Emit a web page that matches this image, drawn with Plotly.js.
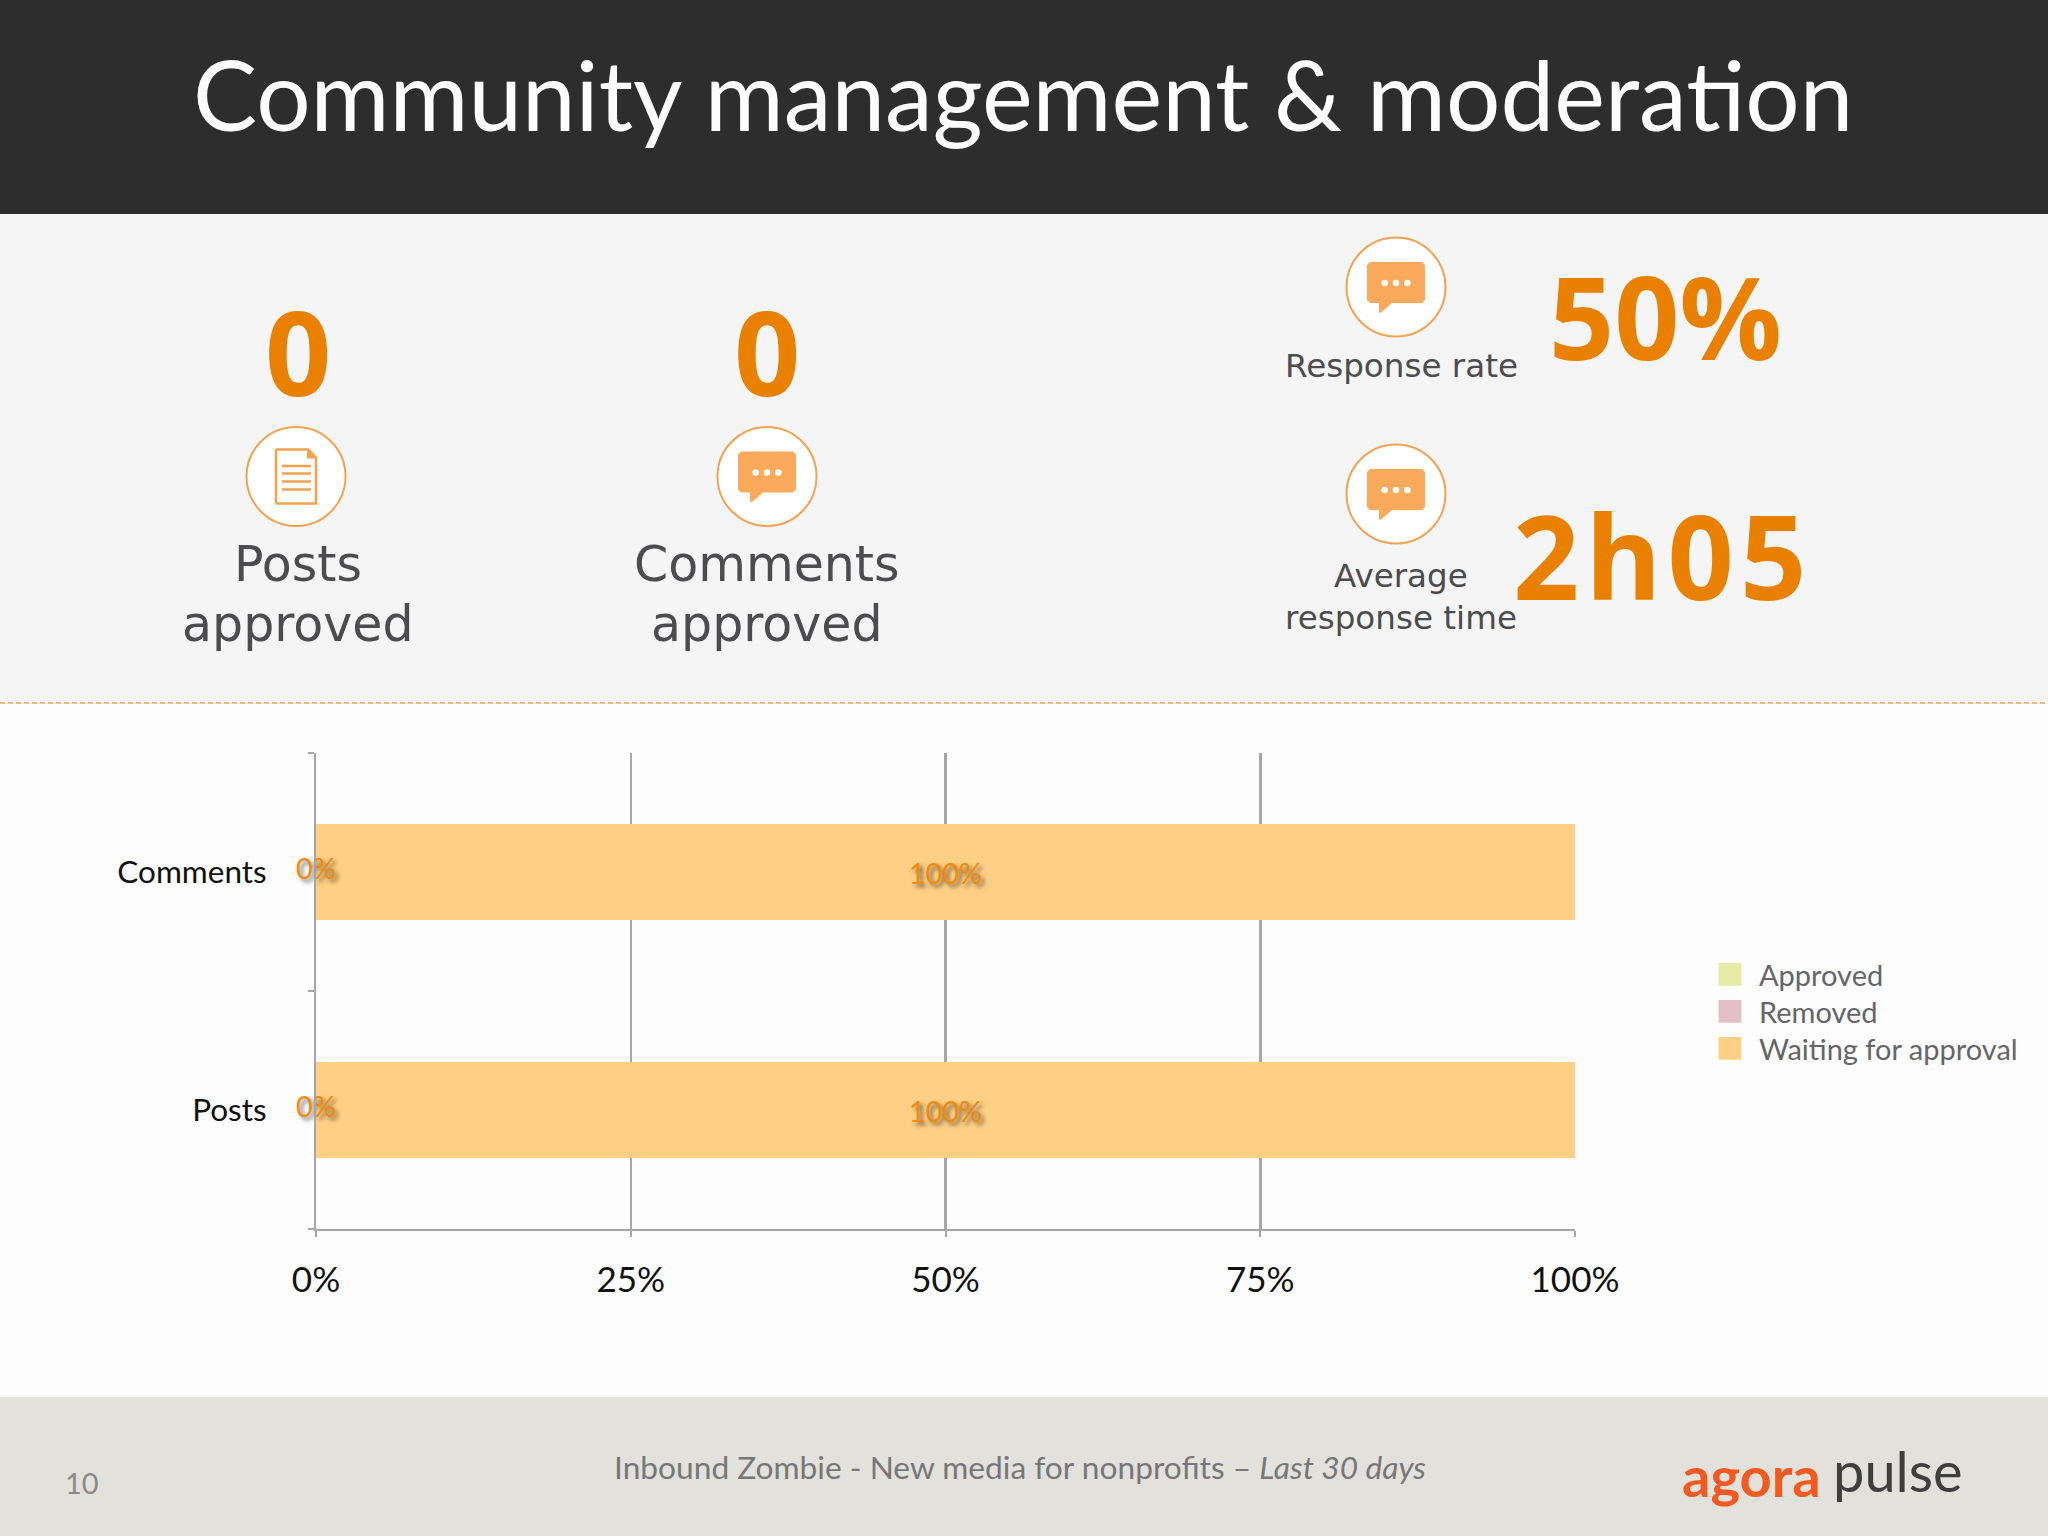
<!DOCTYPE html>
<html><head><meta charset="utf-8">
<script src="https://cdn.plot.ly/plotly-3.0.1.min.js"></script>
<style>html,body{margin:0;padding:0;background:#fdfdfe}</style></head>
<body><div id="chart" style="width:2048px;height:1536px"></div>
<script>
const categories = ['Posts', 'Comments'];
const seriesNames = ['Approved', 'Removed', 'Waiting for approval'];
const approved = [0, 0];
const removed = [0, 0];
const waiting = [100, 100];
const seriesColors = ['#e5eba5', '#e3bfc9', '#fed085'];
const xTicks = [0, 25, 50, 75, 100];
const xTickLabels = ['0%', '25%', '50%', '75%', '100%'];

const W = 2048, H = 1536;
const px = x => x / W, py = y => 1 - y / H;
const GRAY = '#a6a6a6', ORANGE = '#ea8000', ICON = '#f5a250', ICONFILL = '#fba95b', TXT = '#4c4c4e';
const LATO = 'Lato, sans-serif', DJ = '"DejaVu Sans", sans-serif', OS = '"Open Sans", sans-serif';

const shapes = [];
const annotations = [];
function rect(x0, y0, x1, y1, color) {
  shapes.push({type:'rect', xref:'paper', yref:'paper', x0:px(x0), x1:px(x1), y0:py(y0), y1:py(y1),
    fillcolor:color, line:{width:0}, layer:'below'});
}
function path(points, fill, stroke, sw) {
  const d = points.map((p,i) => (i ? 'L' : 'M') + px(p[0]) + ',' + py(p[1])).join(' ') + (fill ? ' Z' : '');
  shapes.push({type:'path', xref:'paper', yref:'paper', path:d, fillcolor:fill || 'rgba(0,0,0,0)',
    line:stroke ? {color:stroke, width:sw} : {width:0}, layer:'below'});
}
function circle(cx, cy, r, fill, stroke, sw) {
  shapes.push({type:'circle', xref:'paper', yref:'paper', x0:px(cx-r), x1:px(cx+r), y0:py(cy+r), y1:py(cy-r),
    fillcolor:fill, line:stroke ? {color:stroke, width:sw} : {width:0}, layer:'below'});
}
function label(text, x, y, size, color, family, weight) {
  annotations.push({text:text, xref:'paper', yref:'paper', x:px(x), y:py(y), xanchor:'center', yanchor:'middle',
    showarrow:false, font:{size:size, color:color, family:family, weight:weight || 400}});
}
function bubbleIcon(cx, cy) {
  circle(cx, cy, 49.5, '#ffffff', ICON, 2);
  const L=cx-29, R=cx+29, T=cy-25, B=cy+16, c=3;
  path([[L+c,T],[R-c,T],[R,T+c],[R,B-c],[R-c,B],[cx-4,B],[cx-15.5,cy+26],[cx-17,cy+25],[cx-17,B],[L+c,B],[L,B-c],[L,T+c]], ICONFILL);
  [-11.3,0,11.3].forEach(dx => circle(cx+dx, cy-4, 3.3, '#ffffff'));
}
function docIcon(cx, cy) {
  circle(cx, cy, 49.5, '#ffffff', ICON, 2);
  path([[cx-20,cy-27],[cx+12,cy-27],[cx+20,cy-19],[cx+20,cy+27],[cx-20,cy+27]], null, ICON, 2.5);
  path([[cx-20,cy-27],[cx-20,cy+27]], null, ICON, 2.5);
  path([[cx+11,cy-27],[cx+20,cy-18],[cx+11,cy-18]], ICON);
  [-10.5,-3,5,13].forEach(dy => path([[cx-14,cy+dy],[cx+15,cy+dy]], null, ICON, 2.5));
}

rect(0, 0, W, 214, '#2d2d2d');
rect(0, 214, W, 703, '#f6f5f6');
rect(0, 1397, W, H, '#e2e1dc');
shapes.push({type:'line', xref:'paper', yref:'paper', x0:0, x1:1, y0:py(703), y1:py(703), line:{color:'#f3a458', width:1.5, dash:'5px,3px'}, layer:'below'});

label('Community management &amp; moderation', 1023, 93, 96, '#fdfdfd', LATO);
label('0', 298, 351, 116, ORANGE, OS, 700);
label('0', 767, 351, 116, ORANGE, OS, 700);
docIcon(296, 476.5);
bubbleIcon(767, 476.5);
label('Posts', 298, 564.3, 49, TXT, DJ);
label('approved', 298, 624.3, 49, TXT, DJ);
label('Comments', 767, 564.3, 49, TXT, DJ);
label('approved', 767, 624.3, 49, TXT, DJ);
bubbleIcon(1396, 287);
bubbleIcon(1396, 494);
label('Response rate', 1401, 366, 32.6, TXT, DJ);
label('Average', 1401, 576, 32.6, TXT, DJ);
label('response time', 1401, 618, 32.6, TXT, DJ);
label('50%', 1665, 315, 114, ORANGE, OS, 700);
label('2h05', 1662, 555, 116, ORANGE, OS, 700);

label('10', 82, 1482, 29, '#8a8a8a', LATO);
label('Inbound Zombie - New media for nonprofits – <i>Last 30 days</i>', 1020, 1467, 31.7, '#77777a', LATO);
label('agora', 1751, 1475, 56, '#f25a1f', LATO, 700);
label('pulse', 1898, 1470, 56, '#3f3f3f', LATO);

const labelFont = {family:LATO, size:29, color:'#f08a10', shadow:'3px 3px 4px rgba(0,0,0,0.55)'};
const seriesValues = [approved, removed, waiting];
const barTraces = seriesValues.map((vals, i) => ({
  type:'bar', orientation:'h', name:seriesNames[i], y:categories, x:vals,
  marker:{color:seriesColors[i]},
  text:vals.map(v => v > 0 ? v + '%' : ''), textposition:'inside', insidetextanchor:'middle', constraintext:'none',
  textangle:0, textfont:labelFont, hoverinfo:'skip'
}));
const zeroLabelTrace = {
  type:'scatter', mode:'text', y:categories, x:approved, text:approved.map(v => v + '%'),
  textposition:'middle center', textfont:labelFont, cliponaxis:false, showlegend:false, hoverinfo:'skip'
};

const layout = {
  width:W, height:H, autosize:false, margin:{l:0,r:0,t:0,b:0,pad:0},
  paper_bgcolor:'#fdfdfe', plot_bgcolor:'rgba(0,0,0,0)',
  barmode:'stack', bargap:0.595,
  xaxis:{domain:[px(316), px(1575)], range:[0,100], tickmode:'array', tickvals:xTicks, ticktext:xTickLabels,
    showgrid:true, gridcolor:GRAY, gridwidth:2.5, zeroline:false, showline:true, linecolor:GRAY, linewidth:2,
    ticks:'outside', ticklen:6, tickcolor:GRAY, tickwidth:2, ticklabelstandoff:13,
    tickfont:{family:LATO, size:35, color:'#111111'}, fixedrange:true},
  yaxis:{domain:[py(1229), py(753)], range:[-0.5,1.5], type:'category', tickson:'boundaries',
    showgrid:false, zeroline:false, showline:true, linecolor:GRAY, linewidth:2,
    ticks:'outside', ticklen:6, tickcolor:GRAY, tickwidth:2, ticklabelstandoff:41,
    tickfont:{family:LATO, size:31.5, color:'#111111'}, fixedrange:true},
  legend:{x:px(1701), y:py(949), xanchor:'left', yanchor:'top', traceorder:'normal', bgcolor:'rgba(0,0,0,0)',
    font:{family:LATO, size:29, color:'#656568'}, itemclick:false, itemdoubleclick:false, tracegroupgap:0, itemwidth:48},
  showlegend:true, shapes:shapes, annotations:annotations
};

Plotly.newPlot('chart', barTraces.concat([zeroLabelTrace]), layout, {displayModeBar:false, staticPlot:true}).then(() => {
  document.querySelectorAll('.legend .legendpoints path').forEach(p => {
    p.setAttribute('transform', (p.getAttribute('transform') || '') + ' scale(1.9)');
  });
  document.querySelectorAll('.legend .traces').forEach((g, i) => {
    const m = /translate\(([-\d.]+),\s*([-\d.]+)\)/.exec(g.getAttribute('transform') || '');
    if (m) g.setAttribute('transform', 'translate(' + m[1] + ',' + (parseFloat(m[2]) - i * 3.7) + ')');
  });
  document.querySelectorAll('.annotation-text').forEach(t => {
    if (t.textContent === '2h05') t.style.letterSpacing = '6px';
  });
});
</script></body></html>
